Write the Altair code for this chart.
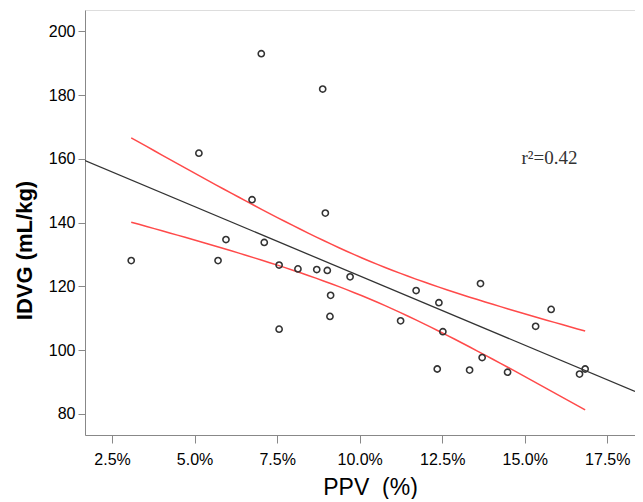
import altair as alt
import numpy as np
import pandas as pd

# Data
ppv = [3.08, 5.13, 7.02, 8.88, 6.74, 5.95, 5.71, 7.11, 7.56, 8.13,
       8.70, 9.02, 8.96, 9.71, 9.12, 9.10, 7.56, 11.71, 12.40, 13.66,
       11.24, 12.52, 12.35, 13.33, 13.71, 14.48, 15.33, 15.80, 16.66, 16.83]
idvg = [128.1, 161.8, 193.0, 181.9, 147.2, 134.7, 128.1, 133.8, 126.7, 125.5,
        125.3, 125.0, 143.0, 123.0, 117.2, 110.6, 106.6, 118.7, 114.9, 120.9,
        109.2, 105.8, 94.1, 93.75, 97.7, 93.1, 107.5, 112.8, 92.5, 94.1]
x_ticks = [2.5, 5.0, 7.5, 10.0, 12.5, 15.0, 17.5]
y_ticks = [80, 100, 120, 140, 160, 180, 200]
annotation = "r\u00b2=0.42"

X_DOM = [1.68, 18.34]
Y_DOM = [73.4, 206.7]

pts = pd.DataFrame({"ppv": ppv, "idvg": idvg})

# Linear fit and confidence interval of the mean (derived from the data)
x = np.array(ppv)
y = np.array(idvg)
n = len(x)
b1, b0 = np.polyfit(x, y, 1)
resid = y - (b0 + b1 * x)
s = np.sqrt(np.sum(resid ** 2) / (n - 2))
xbar = x.mean()
sxx = np.sum((x - xbar) ** 2)
t = 1.701
grid = np.linspace(x.min(), x.max(), 60)
fit = b0 + b1 * grid
se = s * np.sqrt(1.0 / n + (grid - xbar) ** 2 / sxx)
band = pd.DataFrame({"ppv": grid, "upper": fit + t * se, "lower": fit - t * se})
line = pd.DataFrame({"ppv": X_DOM, "fit": [b0 + b1 * X_DOM[0], b0 + b1 * X_DOM[1]]})

xs = alt.Scale(domain=X_DOM, nice=False, zero=False)
ys = alt.Scale(domain=Y_DOM, nice=False, zero=False)

x_axis = alt.Axis(values=x_ticks, labelExpr="format(datum.value, '.1f') + '%'",
                  title="PPV\u00a0\u00a0(%)", grid=False, tickSize=8, labelPadding=8,
                  labelFontSize=16, titleFontSize=23, titleFontWeight="normal",
                  titleY=52, titleX=285, titleAlign="center", titleBaseline="middle")
y_axis = alt.Axis(values=y_ticks, title="IDVG (mL/kg)", grid=False, tickSize=7,
                  labelPadding=3, labelFontSize=16, titleFontSize=22,
                  titleFontWeight="bold", titleAngle=270, titleX=-61, titleY=240,
                  titleAlign="center", titleBaseline="middle")

fit_line = alt.Chart(line).mark_line(color="#333333", strokeWidth=1.3, clip=True).encode(
    x=alt.X("ppv:Q", scale=xs, axis=x_axis),
    y=alt.Y("fit:Q", scale=ys, axis=y_axis),
)
upper = alt.Chart(band).mark_line(color="#ff4a4a", strokeWidth=1.5).encode(
    x=alt.X("ppv:Q", scale=xs), y=alt.Y("upper:Q", scale=ys))
lower = alt.Chart(band).mark_line(color="#ff4a4a", strokeWidth=1.5).encode(
    x=alt.X("ppv:Q", scale=xs), y=alt.Y("lower:Q", scale=ys))
points = alt.Chart(pts).mark_point(shape="circle", filled=False, color="#333333",
                                   strokeWidth=1.6, size=38, opacity=1).encode(
    x=alt.X("ppv:Q", scale=xs), y=alt.Y("idvg:Q", scale=ys))
label = alt.Chart(pd.DataFrame({"ppv": [14.9], "idvg": [160.3], "t": [annotation]})).mark_text(
    font="Liberation Serif", fontSize=19, align="left", baseline="middle", color="#333333"
).encode(x=alt.X("ppv:Q", scale=xs), y=alt.Y("idvg:Q", scale=ys), text="t:N")

chart = alt.layer(fit_line, upper, lower, points, label).properties(
    width=550, height=425,
    autosize=alt.AutoSizeParams(type="none"),
    padding={"left": 77, "top": 2, "right": 0, "bottom": 64},
).configure_view(
    fill="#f4f4f4", stroke="#333333", strokeWidth=1.5
).configure_axis(
    domainColor="#222222", domainWidth=1.5, tickColor="#222222", tickWidth=1.5,
    labelColor="#222222", titleColor="#111111", labelFont="Liberation Sans",
    titleFont="Liberation Sans"
).configure(background="white")

chart.save("out.html", embed_options={"renderer": "svg", "actions": False})
